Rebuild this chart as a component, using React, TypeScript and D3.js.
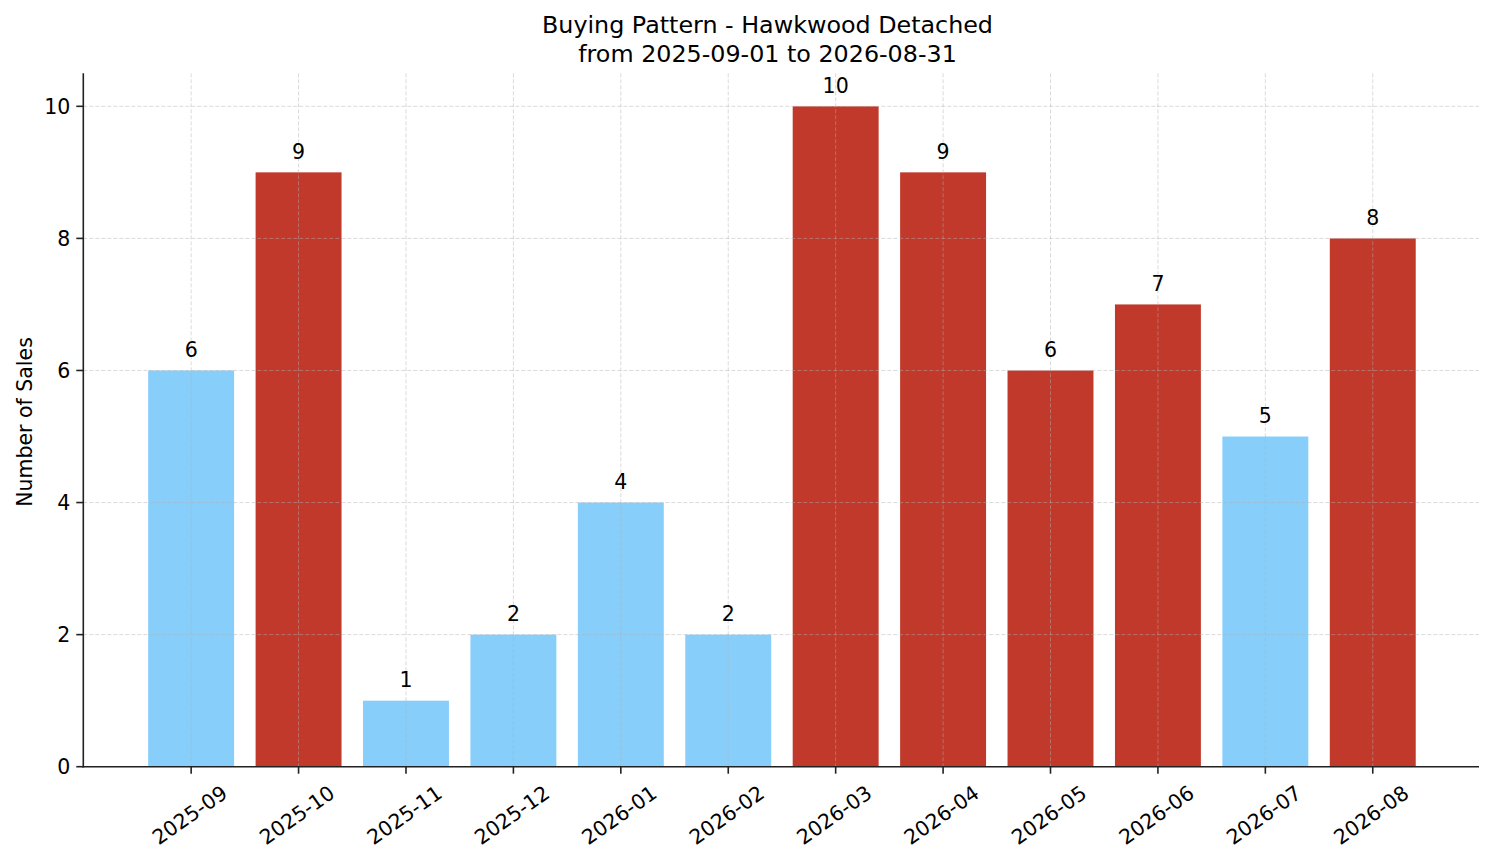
import React from "react";
import * as d3 from "d3";

const months = ["2025-09","2025-10","2025-11","2025-12","2026-01","2026-02","2026-03","2026-04","2026-05","2026-06","2026-07","2026-08"];
const sales = [6, 9, 1, 2, 4, 2, 10, 9, 6, 7, 5, 8];
const barColors = ["#87CEFA","#C0392B","#87CEFA","#87CEFA","#87CEFA","#87CEFA","#C0392B","#C0392B","#C0392B","#C0392B","#87CEFA","#C0392B"];
const yTicks = [0, 2, 4, 6, 8, 10];
const titleLines = ["Buying Pattern - Hawkwood Detached", "from 2025-09-01 to 2026-08-31"];
const yLabel = "Number of Sales";

const W = 1494, H = 863;
const left = 83.3, right = 1479, top = 73.3, bottom = 766.7;
const FONT = "'DejaVu Sans', Verdana, sans-serif";

export default function App() {
  const x = d3.scaleLinear().domain([-1.004, 11.989]).range([left, right]);
  const y = d3.scaleLinear().domain([0, 10.5]).range([bottom, top]);
  const bw = x(0.8) - x(0);
  const grid = { stroke: "#b0b0b0", strokeOpacity: 0.6, strokeWidth: 0.8, strokeDasharray: "4 2" };
  return (
    <svg width={W} height={H} style={{ position: "absolute", left: 0, top: 0, background: "#fff" }} fontFamily={FONT}>
      <rect x={0} y={0} width={W} height={H} fill="#fff" />
      {sales.map((v, i) => (
        <rect key={i} x={x(i) - bw / 2} y={y(v)} width={bw} height={y(0) - y(v)} fill={barColors[i]} />
      ))}
      {yTicks.map((t) => (
        <line key={"gy" + t} x1={left} x2={right} y1={y(t)} y2={y(t)} {...grid} />
      ))}
      {months.map((m, i) => (
        <line key={"gx" + i} x1={x(i)} x2={x(i)} y1={top} y2={bottom} {...grid} />
      ))}
      {sales.map((v, i) => (
        <text key={"l" + i} x={x(i)} y={y(v) - 13.5} textAnchor="middle" fontSize={20.5} fill="#000">{v}</text>
      ))}
      <line x1={left} x2={left} y1={top} y2={bottom + 0.8} stroke="#222" strokeWidth={1.6} />
      <line x1={left - 0.8} x2={right} y1={bottom} y2={bottom} stroke="#222" strokeWidth={1.6} />
      {yTicks.map((t) => (
        <g key={"ty" + t}>
          <line x1={left - 7} x2={left} y1={y(t)} y2={y(t)} stroke="#222" strokeWidth={1.6} />
          <text x={left - 13} y={y(t)} dy="0.36em" textAnchor="end" fontSize={20.5} fill="#000">{t}</text>
        </g>
      ))}
      {months.map((m, i) => (
        <g key={"tx" + i}>
          <line x1={x(i)} x2={x(i)} y1={bottom} y2={bottom + 7} stroke="#222" strokeWidth={1.6} />
          <text transform={`translate(${x(i) - 1.5},${815}) rotate(-35)`} dy="0.35em" textAnchor="middle" fontSize={20.5} fill="#000">{m}</text>
        </g>
      ))}
      <text transform={`translate(31.5,${(top + bottom) / 2 + 2}) rotate(-90)`} textAnchor="middle" fontSize={20.5} fill="#000">{yLabel}</text>
      {titleLines.map((s, i) => (
        <text key={"t" + i} x={767.5} y={32.5 + i * 29} textAnchor="middle" fontSize={23.8} fill="#000">{s}</text>
      ))}
    </svg>
  );
}
